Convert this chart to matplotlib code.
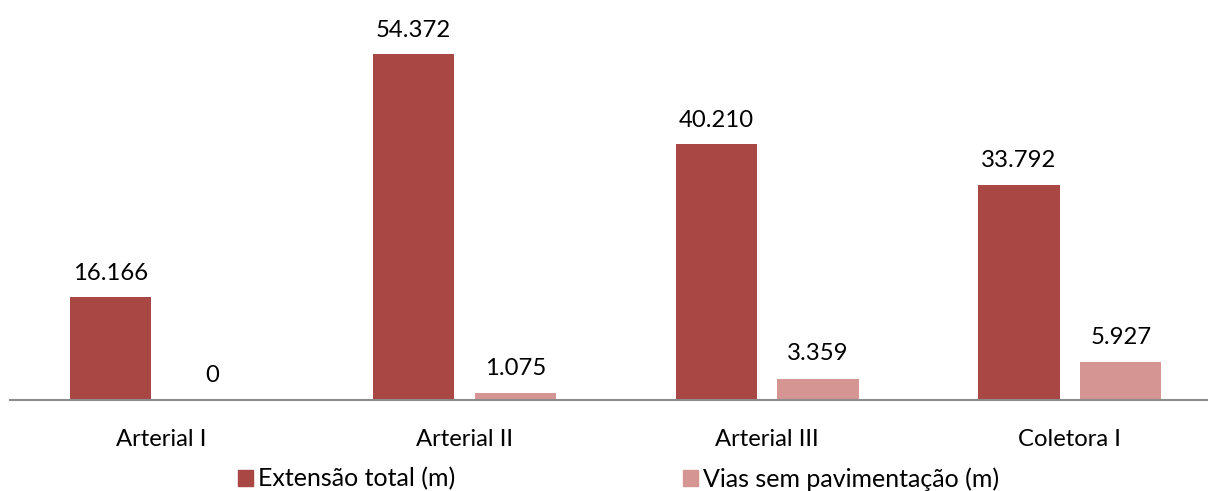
import matplotlib
matplotlib.use("Agg")
import matplotlib.pyplot as plt
from matplotlib.patches import Patch
import numpy as np

categories = ["Arterial I", "Arterial II", "Arterial III", "Coletora I"]
extensao_total = [16166, 54372, 40210, 33792]
vias_sem_pav = [0, 1075, 3359, 5927]
labels_total = ["16.166", "54.372", "40.210", "33.792"]
labels_sem = ["0", "1.075", "3.359", "5.927"]
series_names = ["Extensão total (m)", "Vias sem pavimentação (m)"]

c_dark = "#A94744"
c_light = "#D59593"
plt.rcParams['font.family'] = ['Lato', 'DejaVu Sans']

fig = plt.figure(figsize=(12.08, 4.91), dpi=100)
ax = fig.add_axes([0, 91/491, 1, 400/491])

x = np.arange(len(categories))
w = 0.268
off = 0.168
ax.bar(x - off, extensao_total, width=w, color=c_dark)
ax.bar(x + off, vias_sem_pav, width=w, color=c_light)

ymax = 62858
ax.set_ylim(0, ymax)
xmin = -161.5/302.8
ax.set_xlim(xmin, xmin + 1208/302.8)

fs = 17.2
for xi, v, t in zip(x - off, extensao_total, labels_total):
    ax.annotate(t, (xi, v), xytext=(0, 24), textcoords="offset pixels",
                ha="center", va="center", fontsize=fs, color="black")
for xi, v, t in zip(x + off, vias_sem_pav, labels_sem):
    ax.annotate(t, (xi, v), xytext=(0, 25), textcoords="offset pixels",
                ha="center", va="center", fontsize=fs, color="black")

for s in ["top", "left", "right"]:
    ax.spines[s].set_visible(False)
ax.spines["bottom"].set_color("#8C8C8C")
ax.spines["bottom"].set_linewidth(1.5)
ax.spines["bottom"].set_bounds(-0.5, 3.5)
ax.set_yticks([])
ax.set_xticks(x)
ax.set_xticklabels(categories, fontsize=fs)
ax.tick_params(axis="x", length=0, pad=21)

handles = [Patch(color=c_dark), Patch(color=c_light)]
fig.legend(handles, series_names, loc="center", bbox_to_anchor=(618.5/1208, 1 - 479/491),
           ncol=2, frameon=False, fontsize=18, handlelength=0.6, handleheight=0.6,
           handletextpad=0.2, columnspacing=9.1, borderpad=0, borderaxespad=0)

fig.savefig("out.png", dpi=100)
